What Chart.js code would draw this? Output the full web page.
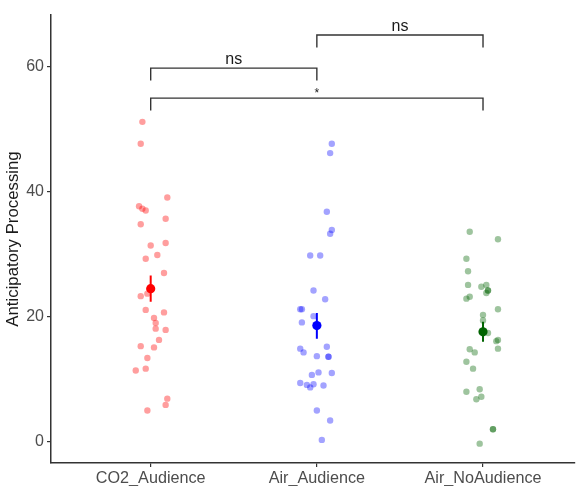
<!DOCTYPE html>
<html>
<head>
<meta charset="utf-8">
<script src="https://cdn.jsdelivr.net/npm/chart.js@4/dist/chart.umd.min.js"></script>
<style>
  html, body { margin: 0; padding: 0; background: #fff; overflow: hidden; }
  canvas { display: block; }
</style>
</head>
<body>
<canvas id="chart" width="579" height="486"></canvas>
<script>
// categories and axis ticks
const categories = ['CO2_Audience', 'Air_Audience', 'Air_NoAudience'];
const yTicks = [0, 20, 40, 60];

// raw observations (jittered x in category units, y values)
const co2X = [0.95, 0.94, 1.10, 0.93, 0.95, 0.97, 1.09, 0.94, 1.00, 1.09, 1.04, 0.97, 1.08, 0.94, 0.98,
              0.97, 1.08, 1.02, 1.03, 1.03, 1.09, 1.05, 0.94, 1.02, 0.98, 0.91, 0.97, 1.10, 1.09, 0.98];
const co2Y = [51.1, 47.6, 39.0, 37.6, 37.2, 36.9, 35.6, 34.7, 31.3, 31.7, 29.8, 29.2, 26.9, 23.2, 23.6,
              21.0, 20.6, 19.7, 18.9, 18.0, 17.8, 16.2, 15.2, 15.0, 13.3, 11.3, 11.6, 6.8, 5.8, 4.9];

const airAudX = [2.09, 2.08, 2.06, 2.09, 2.08, 1.96, 2.02, 1.98, 2.05, 1.90, 1.91, 1.98, 1.91, 1.90, 1.92,
                 2.06, 2.07, 2.07, 2.00, 2.09, 2.01, 1.97, 1.90, 1.94, 1.98, 1.96, 2.04, 2.00, 2.08, 2.03];
const airAudY = [47.6, 46.1, 36.7, 33.8, 33.2, 29.7, 29.7, 24.1, 22.7, 21.1, 21.1, 20.0, 19.0, 14.8, 14.2,
                 15.1, 13.5, 13.5, 13.6, 10.9, 11.0, 10.6, 9.3, 9.0, 9.1, 8.6, 8.9, 4.9, 3.3, 0.2];

const airNoX = [2.92, 3.09, 2.90, 2.91, 2.91, 2.99, 3.02, 3.03, 3.03, 3.02, 2.92, 2.90, 3.09, 3.00, 3.00,
                3.03, 3.09, 3.08, 3.09, 2.92, 2.95, 2.90, 2.94, 2.90, 2.98, 2.99, 2.96, 3.06, 3.06, 2.98];
const airNoY = [33.5, 32.3, 29.2, 27.2, 25.0, 24.7, 25.0, 24.1, 24.1, 23.7, 23.1, 22.8, 21.1, 20.2, 19.3,
                17.3, 16.2, 16.0, 14.8, 14.7, 14.2, 12.7, 11.6, 7.9, 8.3, 7.1, 6.7, 1.9, 1.9, -0.4];

// group means with error bar limits
const means = [24.4, 18.5, 17.5];
const errLow = [22.3, 16.4, 15.9];
const errHigh = [26.5, 20.5, 19.1];

// significance brackets
const bracketFrom = [1, 2, 1];
const bracketTo = [2, 3, 3];
const bracketY = [59.7, 65.0, 54.9];
const bracketLabels = ['ns', 'ns', '*'];
const bracketTick = 2;

const lightColors = ['rgba(255,0,0,0.38)', 'rgba(0,0,255,0.36)', 'rgba(0,100,0,0.38)'];
const solidColors = ['#ff0000', '#0000ff', '#006400'];
const FONT = '"Liberation Sans", Arial, sans-serif';

function toPoints(xs, ys) {
    return xs.map((x, i) => ({ x: x, y: ys[i] }));
}

const datasets = [];
[[co2X, co2Y], [airAudX, airAudY], [airNoX, airNoY]].forEach((g, i) => {
    datasets.push({
        data: toPoints(g[0], g[1]),
        backgroundColor: lightColors[i],
        borderWidth: 0,
        pointRadius: 3.2,
        order: 4
    });
});
means.forEach((m, i) => {
    datasets.push({
        data: [{ x: i + 1, y: errLow[i] }, { x: i + 1, y: errHigh[i] }],
        showLine: true,
        borderColor: solidColors[i],
        borderWidth: 2,
        pointRadius: 0,
        order: 3
    });
    datasets.push({
        data: [{ x: i + 1, y: m }],
        backgroundColor: solidColors[i],
        borderWidth: 0,
        pointRadius: 4.6,
        order: 2
    });
});
bracketY.forEach((yv, i) => {
    datasets.push({
        data: [
            { x: bracketFrom[i], y: yv - bracketTick },
            { x: bracketFrom[i], y: yv },
            { x: bracketTo[i], y: yv },
            { x: bracketTo[i], y: yv - bracketTick }
        ],
        showLine: true,
        borderColor: '#333333',
        borderWidth: 1.4,
        pointRadius: 0,
        order: 1
    });
});

// text above the brackets
const bracketText = {
    id: 'bracketText',
    afterDatasetsDraw(chart) {
        const ctx = chart.ctx;
        const xs = chart.scales.x, ys = chart.scales.y;
        ctx.save();
        ctx.fillStyle = '#1a1a1a';
        ctx.textAlign = 'center';
        ctx.textBaseline = 'alphabetic';
        bracketLabels.forEach((t, i) => {
            const cx = xs.getPixelForValue((bracketFrom[i] + bracketTo[i]) / 2);
            const cy = ys.getPixelForValue(bracketY[i]);
            if (t === '*') {
                ctx.font = '12px ' + FONT;
                ctx.fillText(t, cx, cy - 1);
            } else {
                ctx.font = '16px ' + FONT;
                ctx.fillText(t, cx, cy - 4);
            }
        });
        ctx.restore();
    }
};

new Chart(document.getElementById('chart'), {
    type: 'scatter',
    data: { datasets: datasets },
    plugins: [bracketText],
    options: {
        responsive: false,
        animation: false,
        layout: { padding: { top: 15, right: 0, left: 0, bottom: 0 } },
        plugins: { legend: { display: false }, tooltip: { enabled: false } },
        scales: {
            x: {
                type: 'linear',
                min: 0.4,
                max: 3.55,
                afterBuildTicks: (s) => { s.ticks = [1, 2, 3].map(v => ({ value: v })); },
                afterFit: (s) => { s.height = 23; },
                ticks: {
                    callback: (v) => categories[v - 1],
                    color: '#4d4d4d',
                    font: { family: FONT, size: 16.2 },
                    padding: 2,
                    maxRotation: 0,
                    autoSkip: false
                },
                grid: { drawOnChartArea: false, drawTicks: true, tickLength: 4, color: '#333333', lineWidth: 1.2 },
                border: { display: true, color: '#333333', width: 1.5 }
            },
            y: {
                min: -3.5,
                max: 68.2,
                afterBuildTicks: (s) => { s.ticks = yTicks.map(v => ({ value: v })); },
                afterFit: (s) => { s.width = 51; },
                ticks: {
                    color: '#4d4d4d',
                    font: { family: FONT, size: 16 },
                    padding: 3
                },
                grid: { drawOnChartArea: false, drawTicks: true, tickLength: 4, color: '#333333', lineWidth: 1.2 },
                border: { display: true, color: '#333333', width: 1.5 },
                title: {
                    display: true,
                    text: 'Anticipatory Processing',
                    color: '#1a1a1a',
                    font: { family: FONT, size: 16.8 },
                    padding: { top: 3, bottom: 0 }
                }
            }
        }
    }
});
</script>
</body>
</html>
